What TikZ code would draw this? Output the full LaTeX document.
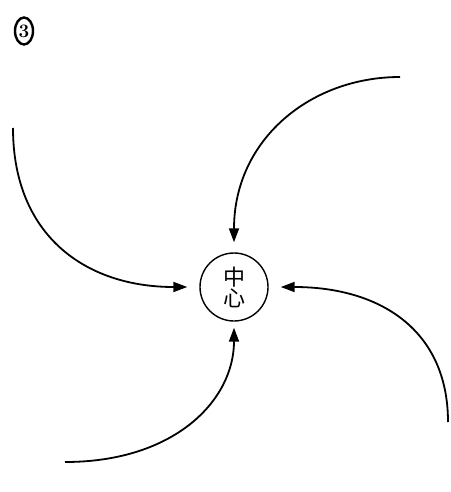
\documentclass[tikz,border=0pt]{standalone}
\usepackage{fontspec}
\newfontfamily\cjk{Noto Sans CJK SC}
\usetikzlibrary{arrows.meta,positioning,shapes.geometric}

\begin{document}
\begin{tikzpicture}[x=1pt, y=-1pt,
  every node/.style={align=center},
  hub/.style={circle, draw, line width=1.4pt, minimum size=68pt, inner sep=0pt, font=\cjk\fontsize{22}{24}\selectfont},
  badge/.style={ellipse, draw, line width=2.4pt, minimum width=18pt, minimum height=27pt, inner sep=0pt, font=\bfseries\fontsize{19}{19}\selectfont},
  swirl/.style={-{Triangle[length=14pt, width=10pt]}, line width=1.8pt}
]

\useasboundingbox (0,0) rectangle (450,492);

\node[badge] (num) at (24,31) {3};

\node[hub] (ctr) at (234,287) {中\\[-3pt]心};

\coordinate (topstart) at (400,77);
\coordinate (leftstart) at (13,128);
\coordinate (botstart) at (65,462);
\coordinate (rightstart) at (448,422);

\draw[swirl, shorten >=10pt] (topstart) .. controls (310,77) and (234,140) .. (ctr.north);
\draw[swirl, shorten >=12pt] (leftstart) .. controls (13,235) and (85,287) .. (ctr.west);
\draw[swirl, shorten >=6pt] (botstart) .. controls (175,462) and (234,400) .. (ctr.south);
\draw[swirl, shorten >=12pt] (rightstart) .. controls (448,330) and (380,287) .. (ctr.east);

\end{tikzpicture}
\end{document}
